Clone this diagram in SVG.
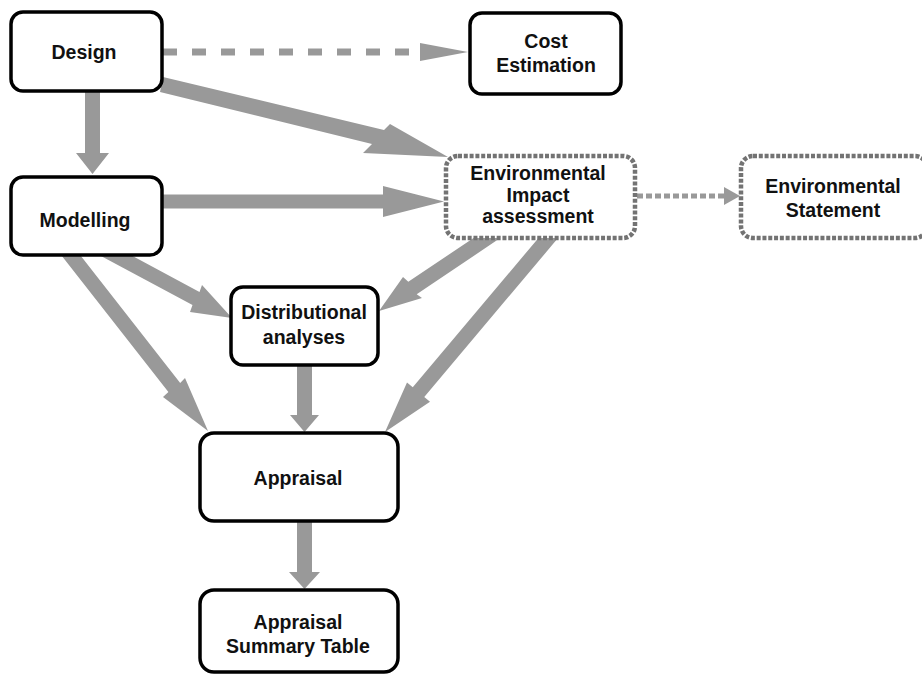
<svg xmlns="http://www.w3.org/2000/svg" width="922" height="676" viewBox="0 0 922 676">
<style>
.arrow{fill:#999999;stroke:none}
.box{fill:#ffffff;stroke:#000000;stroke-width:3.5}
.dbox{fill:#ffffff;stroke:#737373;stroke-width:4.5;stroke-dasharray:4 1.8}
.t{font-family:"Liberation Sans",Arial,sans-serif;font-weight:bold;font-size:19.5px;fill:#111111;text-anchor:middle}
</style>
<rect x="0" y="0" width="922" height="676" fill="#ffffff"/>
<g id="connectors">
  <!-- Design -> Cost Estimation (dashed) -->
  <line x1="163" y1="52" x2="414" y2="52" stroke="#999999" stroke-width="7" stroke-dasharray="14 15"/>
  <polygon class="arrow" points="420,43 468,52 420,61"/>
  <!-- Design -> EIA -->
  <polygon class="arrow" points="163,77 384,130 390,124 448,157 363,153 372,144 160,92"/>
  <!-- Design -> Modelling -->
  <polygon class="arrow" points="85,90 100,90 100,153 109,153 92.5,174 76,153 85,153"/>
  <!-- Modelling -> EIA -->
  <polygon class="arrow" points="160,194.5 383,194.5 383,186 444,201.5 383,217 383,208.5 160,208.5"/>
  <!-- EIA -> Environmental Statement (dotted) -->
  <line x1="637" y1="196" x2="725" y2="196" stroke="#999999" stroke-width="5" stroke-dasharray="6 3"/>
  <polygon class="arrow" points="724,187 740,196 724,205"/>
  <!-- Modelling -> Distributional -->
  <polygon class="arrow" points="103.5,240.4 199.5,291.9 202,285 232,318 190,312 192.5,305.1 96.5,253.6"/>
  <!-- Modelling -> Appraisal -->
  <polygon class="arrow" points="67.9,239.4 180.2,382.9 185,378 208,431 163,397 168.4,392.1 56.1,248.6"/>
  <!-- EIA -> Distributional -->
  <polygon class="arrow" points="491.1,226.2 408.3,281.8 403,277 379,311 422,298 416.7,294.2 499.5,238.6"/>
  <!-- EIA -> Appraisal -->
  <polygon class="arrow" points="549.25,225.17 412.75,387.27 407,382.4 385,432 430,401.8 424.25,396.93 560.75,234.83"/>
  <!-- Distributional -> Appraisal -->
  <polygon class="arrow" points="297,360 312,360 312,415 319,415 304.5,432 290,415 297,415"/>
  <!-- Appraisal -> Appraisal Summary Table -->
  <polygon class="arrow" points="297,520 312,520 312,572 320,572 304.5,589 289,572 297,572"/>
</g>
<g id="design">
  <rect class="box" x="11" y="12" width="151" height="79" rx="12"/>
  <text class="t" x="84" y="59">Design</text>
</g>
<g id="cost">
  <rect class="box" x="470" y="13" width="151" height="81" rx="12"/>
  <text class="t" x="546" y="48">Cost</text>
  <text class="t" x="546" y="72">Estimation</text>
</g>
<g id="modelling">
  <rect class="box" x="11" y="177" width="151" height="78" rx="12"/>
  <text class="t" x="85" y="227">Modelling</text>
</g>
<g id="eia">
  <rect class="dbox" x="446" y="156" width="189" height="82" rx="12"/>
  <text class="t" x="538" y="180">Environmental</text>
  <text class="t" x="538" y="202">Impact</text>
  <text class="t" x="538" y="223">assessment</text>
</g>
<g id="statement">
  <rect class="dbox" x="741" y="156" width="186" height="82" rx="12"/>
  <text class="t" x="833" y="193">Environmental</text>
  <text class="t" x="833" y="217">Statement</text>
</g>
<g id="distributional">
  <rect class="box" x="231" y="287" width="147" height="78" rx="12"/>
  <text class="t" x="304" y="319">Distributional</text>
  <text class="t" x="304" y="344">analyses</text>
</g>
<g id="appraisal">
  <rect class="box" x="200" y="433" width="198" height="88" rx="14"/>
  <text class="t" x="298" y="485">Appraisal</text>
</g>
<g id="ast">
  <rect class="box" x="200" y="590" width="198" height="82" rx="14"/>
  <text class="t" x="298" y="629">Appraisal</text>
  <text class="t" x="298" y="653">Summary Table</text>
</g>
</svg>
